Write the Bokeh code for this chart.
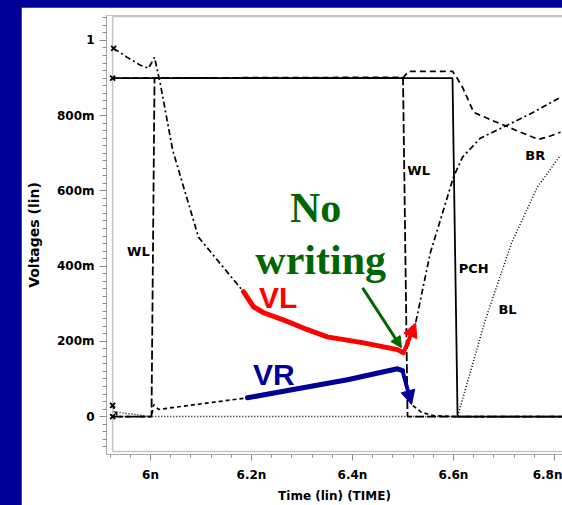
import numpy as np
from bokeh.plotting import figure
from bokeh.models import FixedTicker, Arrow, NormalHead
from bokeh.layouts import column
from bokeh.core.properties import value
from bokeh.embed import file_html
from bokeh.resources import INLINE

# ---- transient waveforms (time in ns, voltage in V) ----
t_pch = [5.925, 6.598, 6.608, 6.816]
v_pch = [0.90, 0.90, 0.00, 0.00]

t_wl = [5.925, 6.002, 6.008, 6.500, 6.509, 6.816]
v_wl = [0.00, 0.00, 0.90, 0.90, 0.00, 0.00]

t_br = [5.925, 6.501, 6.511, 6.598, 6.604, 6.618, 6.640, 6.667, 6.699,
        6.733, 6.768, 6.786, 6.812]
v_br = [0.900, 0.902, 0.918, 0.918, 0.907, 0.875, 0.809, 0.793, 0.775,
        0.756, 0.737, 0.743, 0.756]

t_bl = [5.927, 6.000, 6.608, 6.663, 6.715, 6.766, 6.812]
v_bl = [0.013, 0.000, 0.000, 0.257, 0.462, 0.610, 0.695]

# internal storage node VL
t_vl = [5.927, 5.954, 5.980, 5.996, 6.008, 6.020, 6.044, 6.095, 6.184,
        6.204, 6.224, 6.263, 6.311, 6.350, 6.422, 6.489, 6.501, 6.511,
        6.525, 6.554, 6.580, 6.600, 6.618, 6.653, 6.707, 6.758, 6.812]
v_vl = [0.979, 0.955, 0.934, 0.926, 0.955, 0.881, 0.708, 0.477, 0.332,
        0.292, 0.276, 0.257, 0.231, 0.212, 0.196, 0.178, 0.170, 0.191,
        0.249, 0.435, 0.549, 0.637, 0.690, 0.740, 0.775, 0.809, 0.849]

# internal storage node VR
t_vr = [5.925, 5.935, 6.002, 6.006, 6.016, 6.192, 6.291, 6.390, 6.489,
        6.499, 6.507, 6.517, 6.537, 6.562, 6.606, 6.816]
v_vr = [0.030, 0.000, 0.000, 0.032, 0.019, 0.050, 0.074, 0.098, 0.127,
        0.122, 0.077, 0.032, 0.011, 0.002, 0.000, 0.000]

# highlighted stretches of VL / VR (index ranges into the node arrays)
vl_hi = (8, 16)
vl_arrow = (16, 18)
vr_hi = (5, 9)
vr_arrow = (9, 11)

# trace labels
trace_labels = ["WL", "WL", "PCH", "BR", "BL"]
trace_label_t = [5.976, 6.531, 6.640, 6.762, 6.707]
trace_label_v = [0.438, 0.655, 0.395, 0.695, 0.284]

# annotation
note_text = ["No", "writing"]
note_t = [6.327, 6.337]
note_v = [0.554, 0.416]
note_arrow = [6.420, 0.342, 6.497, 0.183]

vl_label = (6.253, 0.316)
vr_label = (6.244, 0.111)

x_ticks = [6.0, 6.2, 6.4, 6.6, 6.8]
x_tick_labels = ["6n", "6.2n", "6.4n", "6.6n", "6.8n"]
y_ticks = [0.0, 0.2, 0.4, 0.6, 0.8, 1.0]
y_tick_labels = ["0", "200m", "400m", "600m", "800m", "1"]

NAVY = "#000099"
RED = "#ff0000"
GREEN = "#006600"
INK = "black"
FONT = "DejaVu Sans"

T_LEFT, T_RIGHT = 5.9129, 6.8158
V_BOTTOM, V_TOP = -0.1008, 1.0663
FRAME_T = 5.925
FRAME_V_LO, FRAME_V_HI = -0.093, 1.0636

p = figure(width=541, height=498,
           x_range=(T_LEFT, T_RIGHT), y_range=(V_BOTTOM, V_TOP),
           output_backend="svg", toolbar_location=None,
           min_border_left=85, min_border_right=0,
           min_border_top=8, min_border_bottom=50,
           margin=(7, 0, 0, 21))
p.outline_line_color = None
p.grid.visible = False
p.background_fill_color = "white"
p.border_fill_color = "white"

# axes
xa = p.xaxis[0]
xa.ticker = FixedTicker(ticks=x_ticks,
                        minor_ticks=list(np.round(np.arange(5.92, 6.82, 0.04), 2)))
xa.major_label_overrides = dict(zip(x_ticks, x_tick_labels))
xa.axis_label = "Time (lin) (TIME)"
xa.major_tick_in = 0
xa.major_tick_out = 6
xa.minor_tick_in = 0
xa.minor_tick_out = 3
xa.major_label_standoff = 7
xa.axis_label_standoff = 4

ya = p.yaxis[0]
ya.ticker = FixedTicker(ticks=y_ticks,
                        minor_ticks=list(np.round(np.arange(-0.08, 1.07, 0.02), 2)))
ya.major_label_overrides = dict(zip(y_ticks, y_tick_labels))
ya.axis_label = "Voltages (lin)"
ya.major_tick_in = 0
ya.major_tick_out = 7
ya.minor_tick_in = 0
ya.minor_tick_out = 4
ya.major_label_standoff = 5
ya.axis_label_standoff = 12

for ax in (xa, ya):
    ax.axis_line_color = "#a8a8a8"
    ax.major_tick_line_color = "#8c8c8c"
    ax.minor_tick_line_color = "#8c8c8c"
    ax.major_label_text_font = FONT
    ax.major_label_text_font_style = "bold"
    ax.major_label_text_font_size = "12px"
    ax.major_label_text_color = INK
    ax.axis_label_text_font = FONT
    ax.axis_label_text_font_style = "bold"
    ax.axis_label_text_color = INK
xa.axis_label_text_font_size = "12px"
ya.axis_label_text_font_size = "14px"

# plot frame
p.segment(x0=[FRAME_T, FRAME_T, FRAME_T], y0=[FRAME_V_LO, FRAME_V_LO, FRAME_V_HI],
          x1=[FRAME_T, T_RIGHT, T_RIGHT], y1=[FRAME_V_HI, FRAME_V_LO, FRAME_V_HI],
          line_color="#c4c4c4", line_width=1.5)

# black traces
p.line(t_bl, v_bl, line_color=INK, line_width=1.5, line_dash="1 2")
p.line(t_vr, v_vr, line_color=INK, line_width=1.7, line_dash="4 3")
p.line(t_vl, v_vl, line_color=INK, line_width=1.7, line_dash="6 3 2 3")
p.line(t_br, v_br, line_color=INK, line_width=1.7, line_dash="6 4")
p.line(t_wl, v_wl, line_color=INK, line_width=1.8, line_dash="9 3")
p.line(t_pch, v_pch, line_color=INK, line_width=1.8)

# trace start markers
p.scatter([t_vl[0], t_pch[0], t_vr[0], t_wl[0]],
          [v_vl[0], v_pch[0], v_vr[0], v_wl[0]],
          marker="x", size=7, line_color=INK, line_width=1.8)

# highlighted node voltages
a, b = vl_hi
p.line(t_vl[a:b + 1], v_vl[a:b + 1], line_color=RED, line_width=5,
       line_join="round", line_cap="round")
a, b = vl_arrow
p.add_layout(Arrow(x_start=t_vl[a], y_start=v_vl[a], x_end=t_vl[b], y_end=v_vl[b],
                   line_color=RED, line_width=4,
                   end=NormalHead(size=14, fill_color=RED, line_color=RED)))

a, b = vr_hi
p.line(t_vr[a:b + 1], v_vr[a:b + 1], line_color=NAVY, line_width=5,
       line_join="round", line_cap="round")
a, b = vr_arrow
p.add_layout(Arrow(x_start=t_vr[a], y_start=v_vr[a], x_end=t_vr[b], y_end=v_vr[b],
                   line_color=NAVY, line_width=4,
                   end=NormalHead(size=14, fill_color=NAVY, line_color=NAVY)))

# "No writing" note and its arrow
p.add_layout(Arrow(x_start=note_arrow[0], y_start=note_arrow[1],
                   x_end=note_arrow[2], y_end=note_arrow[3],
                   line_color=GREEN, line_width=3,
                   end=NormalHead(size=11, fill_color=GREEN, line_color=GREEN)))
p.text(x=note_t, y=note_v, text=note_text,
       text_font=value("Liberation Serif"), text_font_style="bold",
       text_font_size="42px", text_color=GREEN,
       text_align="center", text_baseline="middle")

p.text(x=[vl_label[0]], y=[vl_label[1]], text=["VL"],
       text_font=value("Liberation Sans"), text_font_style="bold",
       text_font_size="30px", text_color=RED,
       text_align="center", text_baseline="middle")
p.text(x=[vr_label[0]], y=[vr_label[1]], text=["VR"],
       text_font=value("Liberation Sans"), text_font_style="bold",
       text_font_size="30px", text_color=NAVY,
       text_align="center", text_baseline="middle")

p.text(x=trace_label_t, y=trace_label_v, text=trace_labels,
       text_font=value(FONT), text_font_style="bold",
       text_font_size="13px", text_color=INK,
       text_align="center", text_baseline="middle")

page = column(p, styles={"background-color": NAVY})

open("out.html", "w").write(file_html(page, INLINE))
